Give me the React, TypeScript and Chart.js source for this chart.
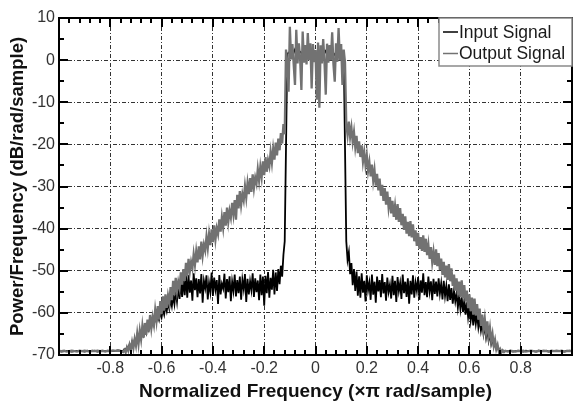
import { useEffect, useRef } from 'react';
import { Chart, registerables } from 'chart.js';

Chart.register(...registerables);

// Power spectral density in dB/rad/sample; frequency in ×π rad/sample.
// Flat noise floor: -1 to -0.76 and 0.75 to 1, every 0.01.
// Skirts: -0.75 to -0.12 and 0.12 to 0.74, every 0.005.

const INPUT_FLOOR_LEFT = [
  -69.1, -69.2, -69.1, -69.0, -69.1, -69.2, -69.1, -69.0, -69.1, -69.1,
  -69.2, -69.0, -69.1, -69.1, -69.0, -69.2, -69.1, -69.0, -69.1, -69.0,
  -69.1, -69.0, -69.0, -68.9, -69.0,
];
const INPUT_LEFT = [
  -69.0, -68.6, -68.9, -68.1, -68.5, -67.5, -68.0, -66.9, -67.6, -66.3,
  -67.2, -65.4, -66.6, -64.8, -66.0, -64.1, -65.2, -63.5, -64.7, -62.9,
  -64.0, -62.2, -63.5, -61.6, -62.8, -60.9, -62.0, -60.4, -61.6, -59.8,
  -61.0, -59.2, -60.4, -58.3, -59.6, -57.6, -59.0, -56.8, -58.4, -55.9,
  -57.9, -54.8, -57.3, -53.6, -56.7, -52.8, -56.2, -51.9, -55.8, -51.2,
  -56.4, -51.0, -55.2, -52.3, -57.1, -50.6, -54.6, -51.8, -56.3, -52.0,
  -55.4, -50.8, -57.6, -52.4, -54.1, -51.1, -56.8, -52.9, -55.0, -50.4,
  -56.0, -51.6, -54.4, -52.2, -57.9, -51.0, -55.6, -53.1, -54.2, -50.7,
  -56.6, -52.0, -55.1, -51.3, -57.2, -52.6, -54.8, -50.9, -56.1, -52.2,
  -55.3, -51.4, -56.9, -52.1, -54.3, -50.8, -57.4, -51.9, -55.6, -52.5,
  -54.6, -50.6, -56.2, -51.8, -55.1, -52.3, -57.0, -50.9, -55.8, -51.4,
  -58.3, -51.2, -55.3, -50.3, -56.4, -51.7, -54.5, -49.8, -55.6, -50.4,
  -54.8, -49.6, -53.2, -48.8, -51.4, -46.2, -43.0,
];
// -0.11 to 0.11, every 0.01
const INPUT_PASSBAND = [
  1.5, 2.0, 1.0, 2.5, 1.2, 2.0, 1.5, 2.2, 0.8, 1.8,
  2.4, 1.2, 1.6, 2.0, 1.0, 2.2, 1.4, 2.5, 1.0, 1.8,
  2.1, 1.3, 1.7,
];
const INPUT_RIGHT = [
  -43.0, -47.4, -45.6, -50.8, -48.2, -53.4, -49.6, -54.8, -50.2, -55.9,
  -51.3, -56.4, -50.6, -55.2, -52.4, -57.3, -51.1, -54.6, -52.8, -56.9,
  -50.9, -55.7, -52.6, -57.6, -51.4, -54.9, -52.2, -56.3, -50.8, -55.4,
  -52.7, -57.1, -51.6, -55.0, -53.3, -56.6, -51.2, -55.8, -52.4, -57.4,
  -51.5, -54.8, -52.9, -56.7, -50.9, -55.3, -52.6, -56.2, -51.8, -57.8,
  -52.4, -55.6, -51.1, -56.4, -52.8, -54.7, -51.5, -56.9, -52.3, -55.2,
  -50.6, -55.8, -52.7, -56.3, -51.4, -54.9, -52.5, -57.0, -51.9, -55.5,
  -52.6, -56.1, -51.8, -55.4, -53.0, -56.8, -52.4, -56.0, -53.6, -57.2,
  -53.2, -56.9, -54.1, -57.8, -54.8, -57.3, -55.4, -58.7, -56.0, -59.1,
  -56.3, -59.8, -57.1, -60.4, -57.5, -61.0, -58.6, -61.8, -59.2, -63.0,
  -59.7, -62.6, -60.4, -63.5, -61.5, -64.2, -62.3, -65.0, -63.1, -65.8,
  -64.0, -66.6, -65.0, -67.3, -66.0, -68.0, -67.1, -68.6, -68.0, -69.0,
  -68.7, -69.3, -69.0, -69.2, -69.1,
];
const INPUT_FLOOR_RIGHT = [
  -69.1, -69.0, -69.2, -69.1, -69.0, -69.1, -69.2, -69.0, -69.1, -69.0,
  -69.1, -69.2, -69.0, -69.1, -69.1, -69.0, -69.2, -69.1, -69.0, -69.1,
  -69.0, -69.1, -69.2, -69.0, -69.1, -69.0,
];

const OUTPUT_FLOOR_LEFT = [
  -69.0, -69.1, -69.0, -69.2, -69.1, -69.0, -69.1, -69.2, -69.0, -69.1,
  -69.0, -69.1, -69.2, -69.0, -69.1, -69.0, -69.1, -69.0, -69.2, -69.0,
  -69.1, -68.9, -69.0, -68.9, -69.0,
];
const OUTPUT_LEFT = [
  -69.3, -68.8, -69.4, -68.2, -69.0, -67.6, -68.8, -66.9, -68.4, -66.2,
  -67.8, -64.9, -67.4, -64.2, -66.3, -63.1, -65.9, -62.4, -65.2, -61.6,
  -64.4, -60.5, -63.6, -61.0, -62.8, -59.3, -61.9, -58.4, -61.6, -57.2,
  -60.3, -56.1, -59.5, -55.6, -58.8, -55.9, -57.6, -53.9, -57.0, -52.4,
  -55.8, -51.7, -54.9, -52.6, -54.1, -50.4, -53.3, -49.6, -52.4, -48.1,
  -51.3, -47.2, -50.2, -47.9, -49.4, -46.1, -48.6, -45.4, -48.0, -44.2,
  -47.3, -43.1, -46.4, -43.8, -45.2, -41.9, -44.6, -41.3, -43.9, -40.2,
  -43.2, -39.2, -42.6, -39.9, -41.3, -37.8, -40.7, -37.3, -39.8, -36.1,
  -39.3, -35.0, -38.4, -35.8, -37.4, -33.9, -36.6, -33.2, -37.9, -32.0,
  -35.2, -31.1, -34.4, -31.8, -33.3, -29.9, -32.6, -29.2, -31.8, -28.0,
  -31.3, -27.1, -30.4, -27.9, -29.3, -25.9, -28.6, -25.3, -27.8, -24.0,
  -27.3, -23.0, -26.5, -23.8, -25.2, -21.8, -24.4, -21.0, -23.6, -19.6,
  -22.6, -18.6, -21.4, -17.3, -19.8, -15.2, -17.6,
];
// -0.115 to 0.115, every 0.005
const OUTPUT_PASSBAND = [
  2.5, -0.5, -7.5, 7.9, 0.2, 3.8, -1.0, -5.9, 7.2, -0.8,
  4.0, 0.5, -7.1, 6.8, -0.6, 3.6, -1.0, 6.4, 0.0, 4.0,
  -6.7, 3.8, -0.5, 2.4, -9.4, 4.2, -11.3, 3.5, -0.8, 5.0,
  -0.4, -8.2, 3.9, -0.6, 3.6, 0.0, 6.6, -1.0, -5.1, 4.0,
  -0.4, 7.6, 0.0, 3.8, -5.9, 2.5, -0.5,
];
const OUTPUT_RIGHT = [
  -15.2, -17.8, -14.6, -18.2, -16.0, -19.4, -17.1, -20.6, -18.0, -22.1,
  -19.3, -23.0, -20.2, -24.1, -21.8, -25.0, -22.6, -26.3, -24.2, -27.6,
  -24.8, -28.6, -26.1, -29.8, -27.0, -30.9, -28.1, -32.2, -29.6, -33.4,
  -30.4, -34.3, -31.2, -35.0, -32.5, -36.4, -33.4, -37.2, -34.6, -37.9,
  -34.2, -38.4, -35.1, -39.2, -36.5, -40.3, -37.1, -41.2, -38.4, -41.8,
  -38.2, -42.1, -39.0, -43.0, -40.4, -44.1, -41.0, -44.8, -42.0, -45.3,
  -41.6, -45.5, -42.4, -46.3, -43.8, -47.2, -44.4, -48.0, -45.5, -48.6,
  -44.9, -48.9, -45.8, -49.8, -47.1, -51.0, -47.9, -51.6, -48.8, -52.2,
  -48.4, -52.5, -49.4, -53.6, -50.9, -54.7, -51.8, -55.6, -52.6, -56.2,
  -52.3, -56.5, -53.4, -57.3, -54.7, -58.9, -55.6, -59.6, -56.4, -60.4,
  -56.6, -60.6, -57.9, -61.6, -59.0, -63.1, -60.4, -64.0, -61.4, -64.7,
  -62.0, -65.6, -63.5, -66.7, -65.0, -67.8, -66.4, -68.6, -67.6, -69.2,
  -68.6, -69.4, -68.9, -69.3, -69.0,
];
const OUTPUT_FLOOR_RIGHT = [
  -69.2, -69.0, -69.1, -69.2, -69.0, -69.1, -69.0, -69.2, -69.1, -69.0,
  -69.1, -69.2, -69.0, -69.1, -69.0, -69.1, -69.2, -69.0, -69.1, -69.0,
  -69.1, -69.0, -69.2, -69.1, -69.0, -69.1,
];

const SERIES_NAMES = ['Input Signal', 'Output Signal'];
const SERIES_COLORS = ['#000000', '#727272'];

const X_TITLE = 'Normalized Frequency (\u00d7\u03c0 rad/sample)';
const Y_TITLE = 'Power/Frequency (dB/rad/sample)';

const FONT = '"Liberation Sans", Arial, sans-serif';

const sampled = (start: number, step: number, values: number[]) =>
  values.map((y, i) => ({ x: +(start + i * step).toFixed(4), y }));

const axesAndLegend = {
  id: 'axesAndLegend',
  afterDraw(chart: any) {
    const { ctx, chartArea } = chart;
    const { left, right, top, bottom } = chartArea;
    const xs = chart.scales.x;
    const ys = chart.scales.y;
    ctx.save();
    ctx.strokeStyle = '#000';
    ctx.lineWidth = 2;
    ctx.setLineDash([]);
    const seg = (x1: number, y1: number, x2: number, y2: number) => {
      ctx.beginPath();
      ctx.moveTo(x1, y1);
      ctx.lineTo(x2, y2);
      ctx.stroke();
    };
    // inward tick marks on all four sides
    for (let k = 0; k <= 50; k++) {
      const px = Math.round(xs.getPixelForValue(-1 + k * 0.04));
      const len = k % 5 === 0 ? 9 : 5;
      seg(px, bottom, px, bottom - len);
      seg(px, top, px, top + len);
    }
    for (let k = 0; k <= 16; k++) {
      const py = Math.round(ys.getPixelForValue(-70 + k * 5));
      const len = k % 2 === 0 ? 9 : 5;
      seg(left, py, left + len, py);
      seg(right, py, right - len, py);
    }
    ctx.strokeRect(left, top, right - left, bottom - top);

    // legend box in the upper-right corner
    const bx = right - 133;
    const by = top;
    const bw = 133;
    const bh = 48;
    ctx.fillStyle = '#fff';
    ctx.fillRect(bx, by, bw, bh);
    ctx.strokeStyle = '#8a8a8a';
    ctx.lineWidth = 1.5;
    ctx.strokeRect(bx, by, bw, bh);
    ctx.font = `17.5px ${FONT}`;
    ctx.textBaseline = 'middle';
    ctx.textAlign = 'left';
    SERIES_NAMES.forEach((name, i) => {
      const cy = by + 14 + i * 21.5;
      ctx.strokeStyle = SERIES_COLORS[i];
      ctx.lineWidth = 1.5;
      seg(bx + 4, cy, bx + 19, cy);
      ctx.fillStyle = '#1a1a1a';
      ctx.fillText(name, bx + 20, cy + 1);
    });
    ctx.restore();
  },
};

export default function App() {
  const canvasRef = useRef<HTMLCanvasElement | null>(null);

  useEffect(() => {
    const canvas = canvasRef.current;
    if (!canvas) return;
    const chart = new Chart(canvas, {
      type: 'line',
      data: {
        datasets: [
          {
            label: SERIES_NAMES[1],
            data: [
              ...sampled(-1, 0.01, OUTPUT_FLOOR_LEFT),
              ...sampled(-0.75, 0.005, OUTPUT_LEFT),
              ...sampled(-0.115, 0.005, OUTPUT_PASSBAND),
              ...sampled(0.12, 0.005, OUTPUT_RIGHT),
              ...sampled(0.75, 0.01, OUTPUT_FLOOR_RIGHT),
            ],
            borderColor: SERIES_COLORS[1],
            borderWidth: 2.3,
            pointRadius: 0,
            tension: 0,
          },
          {
            label: SERIES_NAMES[0],
            data: [
              ...sampled(-1, 0.01, INPUT_FLOOR_LEFT),
              ...sampled(-0.75, 0.005, INPUT_LEFT),
              ...sampled(-0.11, 0.01, INPUT_PASSBAND),
              ...sampled(0.12, 0.005, INPUT_RIGHT),
              ...sampled(0.75, 0.01, INPUT_FLOOR_RIGHT),
            ],
            borderColor: SERIES_COLORS[0],
            borderWidth: 1.8,
            pointRadius: 0,
            tension: 0,
          },
        ],
      },
      options: {
        animation: false,
        responsive: false,
        maintainAspectRatio: false,
        layout: { padding: { top: 18, right: 1, left: 0, bottom: 0 } },
        plugins: {
          legend: { display: false },
          tooltip: { enabled: false },
        },
        scales: {
          x: {
            type: 'linear',
            min: -1,
            max: 1,
            afterFit: (s: any) => {
              s.height = 46;
            },
            ticks: {
              stepSize: 0.2,
              padding: 4,
              color: '#333',
              font: { family: FONT, size: 16 },
              callback: (v: any) => {
                const n = Number(v);
                if (Math.abs(Math.abs(n) - 1) < 1e-6) return '';
                return Math.abs(n) < 1e-6 ? '0' : n.toFixed(1);
              },
              maxRotation: 0,
            },
            grid: { color: '#333', lineWidth: 1, drawTicks: false },
            border: { display: false, dash: [4, 2, 1, 2] },
            title: {
              display: true,
              text: X_TITLE,
              color: '#111',
              font: { family: FONT, size: 19, weight: 'bold', lineHeight: 1 },
              padding: { top: 0, bottom: 0 },
            },
          },
          y: {
            min: -70,
            max: 10,
            afterFit: (s: any) => {
              s.width = 59;
            },
            ticks: {
              stepSize: 10,
              padding: 4,
              color: '#333',
              font: { family: FONT, size: 16 },
              callback: (v: any) => String(v),
            },
            grid: { color: '#333', lineWidth: 1, drawTicks: false },
            border: { display: false, dash: [4, 2, 1, 2] },
            title: {
              display: true,
              text: Y_TITLE,
              color: '#111',
              font: { family: FONT, size: 18.5, weight: 'bold', lineHeight: 1 },
              padding: { top: 9, bottom: 0 },
            },
          },
        },
      },
      plugins: [axesAndLegend],
    } as any);
    return () => chart.destroy();
  }, []);

  return (
    <div style={{ position: 'fixed', left: 0, top: 0, width: 576, height: 401, background: '#fff' }}>
      <canvas ref={canvasRef} width={576} height={401} style={{ width: 576, height: 401 }} />
    </div>
  );
}
